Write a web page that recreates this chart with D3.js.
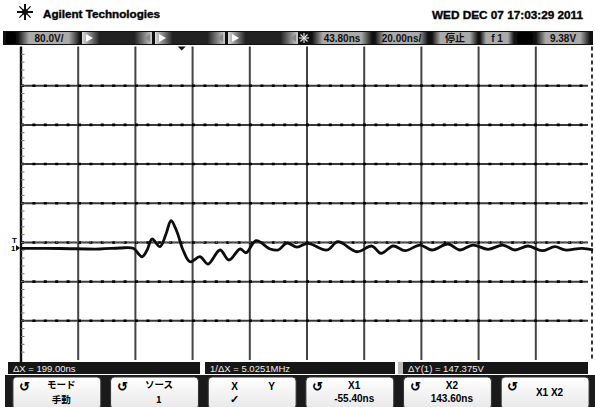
<!DOCTYPE html>
<html>
<head>
<meta charset="utf-8">
<script src="https://cdn.jsdelivr.net/npm/d3@7"></script>
<style>
  body { margin: 0; background: #fff; }
  text { font-family: "Liberation Sans", Arial, sans-serif; }
  .jp { font-family: "Noto Sans CJK JP", sans-serif; }
</style>
</head>
<body>
<div id="scope"></div>
<script>
// waveform: time in ns, voltage in V (ground = 0)
var timeNs = [-56.2, -42.6, -28.6, -21.6, -17.0, -13.9, -12.1, -10.4, -7.6, -5.5, -3.75, -1.65, 0.45,
  2.9, 6.4, 9.2, 13.4, 16.5, 20.4, 22.5, 26.0, 30.9, 33.7, 36.8, 40.3, 44.1, 50.8, 54.6, 61.3,
  66.5, 69.7, 73.9, 78.1, 83.3, 87.5, 93.1, 97.3, 101.8, 107.1, 112.3, 116.5, 121.1, 126.0,
  130.5, 134.0, 140.0, 143.8];
var voltsV = [-0.6, -1, -2, 0, -0.6, -17.8, -4, 18.4, 2.7, 28.6, 55.7, 32.7, -4,
  -28, -17.8, -32.7, -4, -24.5, -2, -9.6, 14.9, -2, -4, 10.2, 2, 9.6, -4, 12.9, -7.6,
  4.1, -10.8, 4.1, -5.5, 6.1, -4, 8.2, -4, 6.1, -2.7, 6.1, -4, 4.1, -5.5,
  2.7, -4, -0.6, -4];

// screen settings
var timeDiv = 20, timeCenter = 43.8, nDivX = 10;   // 20 ns/div
var voltDiv = 80, nDivY = 8, voltBottom = -228.6;  // 80 V/div
var trigLevel = 12.2;

var headerLabels = ["80.0V/", "43.80ns", "20.00ns/", "停止", "f 1", "9.38V"];
var statusLabels = ["ΔX = 199.00ns", "1/ΔX = 5.0251MHz", "ΔY(1) = 147.375V"];
var keyTop = ["モード", "ソース", "X", "X1", "X2", "X1 X2"];
var keyBottom = ["手動", "1", "✓", "-55.40ns", "143.60ns", ""];
var keyKnob = [true, true, false, true, true, true];

var W = 595, H = 407;
var gL = 21, gR = 593, gT = 46.5, gB = 360;

var svg = d3.select("#scope").append("svg")
  .attr("width", W).attr("height", H);
svg.append("rect").attr("width", W).attr("height", H).attr("fill", "#fff");

var x = d3.scaleLinear()
  .domain([timeCenter - timeDiv * nDivX / 2, timeCenter + timeDiv * nDivX / 2])
  .range([gL, gR]);
var y = d3.scaleLinear()
  .domain([voltBottom, voltBottom + voltDiv * nDivY])
  .range([gB, gT]);

var defs = svg.append("defs");
var g1 = defs.append("linearGradient").attr("id", "seg");
g1.append("stop").attr("offset", "0%").attr("stop-color", "#111");
g1.append("stop").attr("offset", "18%").attr("stop-color", "#aaa");
g1.append("stop").attr("offset", "82%").attr("stop-color", "#aaa");
g1.append("stop").attr("offset", "100%").attr("stop-color", "#111");
var g2 = defs.append("linearGradient").attr("id", "off");
g2.append("stop").attr("offset", "0%").attr("stop-color", "#ddd");
g2.append("stop").attr("offset", "25%").attr("stop-color", "#222");
g2.append("stop").attr("offset", "75%").attr("stop-color", "#222");
g2.append("stop").attr("offset", "100%").attr("stop-color", "#ccc");
var g3 = defs.append("linearGradient").attr("id", "key").attr("x1", 0).attr("y1", 0).attr("x2", 0).attr("y2", 1);
g3.append("stop").attr("offset", "0%").attr("stop-color", "#fff");
g3.append("stop").attr("offset", "100%").attr("stop-color", "#e8e8e8");

// ---- top header
var star = svg.append("g").attr("transform", "translate(25,12)");
d3.range(0, 8).forEach(function(i) {
  var a = i * Math.PI / 4;
  star.append("line")
    .attr("x1", 0).attr("y1", 0)
    .attr("x2", 8 * Math.cos(a)).attr("y2", 8 * Math.sin(a))
    .attr("stroke", "#111").attr("stroke-width", i % 2 ? 1.2 : 2);
});
star.append("circle").attr("r", 3).attr("fill", "#111");

svg.append("text").attr("x", 43).attr("y", 18)
  .attr("font-size", 10).attr("font-weight", "bold")
  .attr("stroke", "#111").attr("stroke-width", 0.4)
  .attr("textLength", 117).attr("lengthAdjust", "spacingAndGlyphs")
  .text("Agilent Technologies");
svg.append("text").attr("x", 432).attr("y", 19)
  .attr("font-size", 11).attr("font-weight", "bold")
  .attr("stroke", "#111").attr("stroke-width", 0.4)
  .attr("textLength", 151).attr("lengthAdjust", "spacingAndGlyphs")
  .text("WED DEC 07 17:03:29 2011");

// ---- settings bar
var bar = svg.append("g");
bar.append("rect").attr("x", 3).attr("y", 31).attr("width", 590).attr("height", 14).attr("fill", "#111");
bar.append("rect").attr("x", 6).attr("y", 32).attr("width", 10).attr("height", 12).attr("rx", 2).attr("fill", "#000");
// channel 2..4 switched off
[[82, 152], [155, 225], [228, 298]].forEach(function(s) {
  bar.append("rect").attr("x", s[0]).attr("y", 32).attr("width", s[1] - s[0]).attr("height", 12)
    .attr("fill", "url(#off)");
  bar.append("path").attr("d", "M" + (s[0] + 4) + ",34 l7,4 l-7,4 z").attr("fill", "#fff");
  bar.append("path").attr("d", "M" + (s[1] - 2) + ",34 l-5,4 l5,4 z").attr("fill", "#888");
});
var segs = [[18, 80], [312, 372], [375, 428], [432, 478], [480, 514], [536, 590]];
segs.forEach(function(s, i) {
  bar.append("rect").attr("x", s[0]).attr("y", 32).attr("width", s[1] - s[0]).attr("height", 12)
    .attr("fill", "url(#seg)");
  bar.append("text").attr("x", (s[0] + s[1]) / 2).attr("y", 42)
    .attr("text-anchor", "middle").attr("font-size", 10).attr("font-weight", "bold")
    .attr("class", i == 3 ? "jp" : null)
    .attr("fill", "#111")
    .text(headerLabels[i]);
});
bar.append("rect").attr("x", 517).attr("y", 32).attr("width", 16).attr("height", 12).attr("rx", 3).attr("fill", "#000");
// trigger star
var ts = bar.append("g").attr("transform", "translate(304,38)");
d3.range(0, 8).forEach(function(i) {
  var a = i * Math.PI / 4;
  ts.append("line").attr("x1", 0).attr("y1", 0)
    .attr("x2", 5 * Math.cos(a)).attr("y2", 5 * Math.sin(a))
    .attr("stroke", "#ddd").attr("stroke-width", 1.2);
});

// ---- graticule
var grid = svg.append("g");
var xLines = d3.range(1, nDivX).map(function(k) { return x.domain()[0] + k * timeDiv; });
var yLines = d3.range(1, nDivY).map(function(k) { return voltBottom + k * voltDiv; });

grid.selectAll(".vl").data(xLines).enter().append("line")
  .attr("x1", function(d) { return x(d); }).attr("x2", function(d) { return x(d); })
  .attr("y1", gT).attr("y2", gB)
  .attr("stroke", "#444").attr("stroke-width", 2);
grid.selectAll(".hl").data(yLines).enter().append("line")
  .attr("x1", gL).attr("x2", gR - 5)
  .attr("y1", function(d) { return y(d); }).attr("y2", function(d) { return y(d); })
  .attr("stroke", "#3a3a3a").attr("stroke-width", 2);
grid.selectAll(".hd").data(yLines).enter().append("line")
  .attr("x1", gL).attr("x2", gR - 5)
  .attr("y1", function(d) { return y(d); }).attr("y2", function(d) { return y(d); })
  .attr("stroke", "#000").attr("stroke-width", 2.6).attr("stroke-dasharray", "3,8.4");

// left frame with minor ticks
grid.append("line").attr("x1", gL).attr("x2", gL).attr("y1", gT).attr("y2", gB + 2)
  .attr("stroke", "#111").attr("stroke-width", 2.4);
grid.selectAll(".mt").data(d3.range(1, nDivY * 5)).enter().append("line")
  .attr("x1", gL).attr("x2", gL + 3.5)
  .attr("y1", function(k) { return y(voltBottom + k * voltDiv / 5); })
  .attr("y2", function(k) { return y(voltBottom + k * voltDiv / 5); })
  .attr("stroke", "#777").attr("stroke-width", 1);
// right frame, dashed
grid.append("line").attr("x1", gR - 1).attr("x2", gR - 1).attr("y1", gT).attr("y2", gB)
  .attr("stroke", "#222").attr("stroke-width", 1.8).attr("stroke-dasharray", "4,3");

// trigger level, dotted
grid.append("line").attr("x1", gL + 14).attr("x2", gR - 5)
  .attr("y1", y(trigLevel)).attr("y2", y(trigLevel))
  .attr("stroke", "#777").attr("stroke-width", 1.6).attr("stroke-dasharray", "1.6,2.6");

// trigger position marker
svg.append("path")
  .attr("d", "M" + (x(0) - 4) + "," + (gT) + " l8,0 l-4,4 z").attr("fill", "#111");

// ground / trigger markers on the left
svg.append("text").attr("x", 12).attr("y", y(trigLevel) + 1)
  .attr("font-size", 8).attr("font-weight", "bold").text("T");
svg.append("text").attr("x", 11).attr("y", y(0) + 3)
  .attr("font-size", 8).attr("font-weight", "bold").text("1");
svg.append("path").attr("d", "M16," + (y(0) - 3) + " l4,3 l-4,3 z").attr("fill", "#111");

// ---- waveform
var pts = timeNs.map(function(t, i) { return [t, voltsV[i]]; });
svg.append("path").datum(pts)
  .attr("d", d3.line()
    .x(function(d) { return x(d[0]); })
    .y(function(d) { return y(d[1]); })
    .curve(d3.curveCatmullRom))
  .attr("fill", "none").attr("stroke", "#0d0d0d").attr("stroke-width", 2.8)
  .attr("stroke-linejoin", "round");

// ---- measurement status bar
var stat = [[8, 200], [205, 395], [403, 588]];
svg.append("rect").attr("x", 398).attr("y", 362).attr("width", 5).attr("height", 12).attr("fill", "#bbb");
stat.forEach(function(s, i) {
  svg.append("rect").attr("x", s[0]).attr("y", 362).attr("width", s[1] - s[0]).attr("height", 12)
    .attr("fill", "#161616");
  svg.append("text").attr("x", s[0] + 5).attr("y", 371.5)
    .attr("font-size", 9.5).attr("fill", "#eee")
    .text(statusLabels[i]);
});

// ---- softkeys
svg.append("rect").attr("x", 5).attr("y", 375).attr("width", 590).attr("height", 32).attr("fill", "#1a1a1a");
var kx = d3.scaleBand().domain(d3.range(6)).range([10, 592]).paddingInner(0.1).paddingOuter(0.03);
keyTop.forEach(function(lab, i) {
  var k = svg.append("g").attr("transform", "translate(" + kx(i) + ",377)");
  var w = kx.bandwidth();
  k.append("rect").attr("width", w).attr("height", 32).attr("rx", 4)
    .attr("fill", "url(#key)").attr("stroke", "#333").attr("stroke-width", 1);
  if (keyKnob[i]) {
    k.append("text").attr("x", 6).attr("y", 14).attr("font-size", 13).attr("font-weight", "bold")
      .attr("font-family", "DejaVu Sans").text("↺");
  }
  if (i == 2) {
    k.append("text").attr("x", w * 0.3).attr("y", 13).attr("text-anchor", "middle")
      .attr("font-size", 10).attr("font-weight", "bold").text("X");
    k.append("text").attr("x", w * 0.72).attr("y", 13).attr("text-anchor", "middle")
      .attr("font-size", 10).attr("font-weight", "bold").text("Y");
    k.append("text").attr("x", w * 0.3).attr("y", 26).attr("text-anchor", "middle")
      .attr("font-size", 11).attr("font-weight", "bold").attr("font-family", "DejaVu Sans").text(keyBottom[i]);
    return;
  }
  var one = keyBottom[i] === "";
  var jp = i < 2;
  k.append("text").attr("x", w * 0.55).attr("y", one ? 19 : (jp ? 11 : 12)).attr("text-anchor", "middle")
    .attr("class", jp ? "jp" : null)
    .attr("font-size", jp ? 9.5 : 10).attr("font-weight", "bold").text(lab);
  if (!one) {
    k.append("text").attr("x", w * 0.55).attr("y", jp ? 26 : 25).attr("text-anchor", "middle")
      .attr("class", jp ? "jp" : null)
      .attr("font-size", jp ? 9.5 : 10).attr("font-weight", "bold").text(keyBottom[i]);
  }
});
</script>
</body>
</html>
